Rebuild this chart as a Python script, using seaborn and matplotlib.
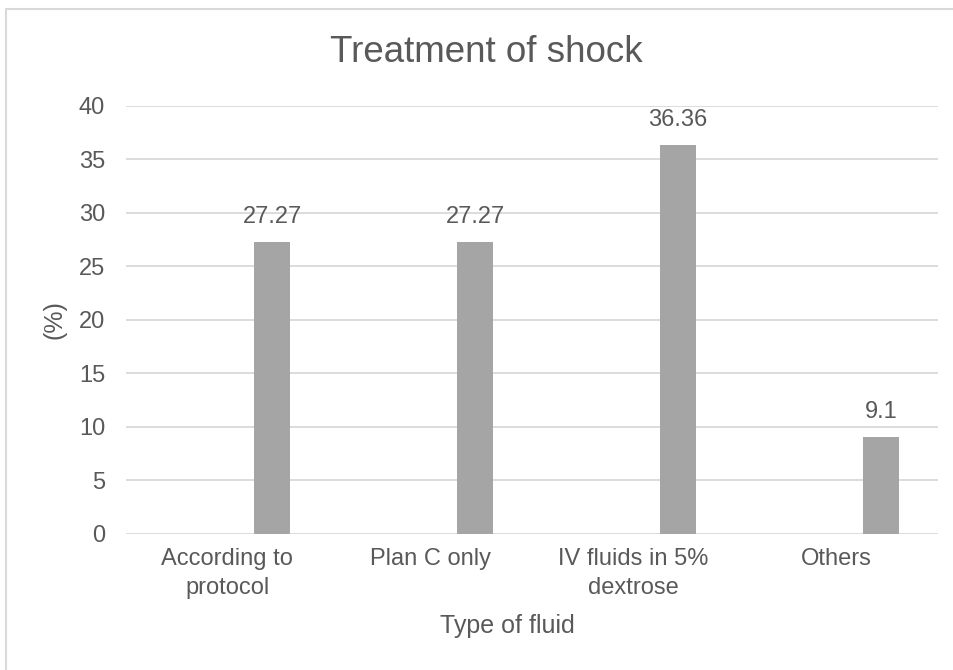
import matplotlib
matplotlib.use("Agg")
import matplotlib.pyplot as plt
from matplotlib.lines import Line2D
import seaborn as sns
import pandas as pd

# data
categories = ["According to\nprotocol", "Plan C only", "IV fluids in 5%\ndextrose", "Others"]
percent = [27.27, 27.27, 36.36, 9.1]
value_labels = ["27.27", "27.27", "36.36", "9.1"]

title = "Treatment of shock"
x_title = "Type of fluid"
y_title = "(%)"

text_col = "#595959"
bar_col = "#A5A5A5"
grid_col = "#D9D9D9"

df = pd.DataFrame({"fluid": categories, "pct": percent, "series": "shock"})

sns.set_style("white")
plt.rcParams["font.family"] = ["Liberation Sans", "DejaVu Sans"]

fig = plt.figure(figsize=(9.54, 6.70), dpi=100)
ax = fig.add_axes([0.132, 0.203, 0.851, 0.639])

# Excel-style cluster with an empty first series -> bars sit right of the category centre
ax = sns.barplot(data=df, x="fluid", y="pct", hue="series",
                 hue_order=["blank", "shock"],
                 palette={"blank": "white", "shock": bar_col},
                 width=0.88, gap=0.6, dodge=True, legend=False,
                 linewidth=0, ax=ax)

ax.set_ylim(0, 40)
ax.set_xlim(-0.5, 3.5)
ax.set_yticks(range(0, 41, 5))
ax.yaxis.grid(True, color=grid_col, linewidth=1.3)
ax.set_axisbelow(True)
for s in ax.spines.values():
    s.set_visible(False)
ax.tick_params(axis="both", length=0, labelsize=17, labelcolor=text_col)
ax.tick_params(axis="y", pad=15)
ax.tick_params(axis="x", pad=10)
for lbl in ax.get_xticklabels():
    lbl.set_linespacing(1.4)

ax.bar_label(ax.containers[-1], labels=value_labels, padding=10, fontsize=17, color=text_col)

ax.set_xlabel(x_title, fontsize=18, color=text_col)
ax.xaxis.set_label_coords(0.47, -0.215)
ax.xaxis.label.set_va("center")
ax.set_ylabel(y_title, fontsize=18, color=text_col)
ax.yaxis.set_label_coords(-0.0875, 0.5)
ax.yaxis.label.set_va("center")

fig.text(0.51, 1 - 53 / 670, title, ha="center", va="center", fontsize=26.5, color=text_col)

# chart area border (only top and left visible in the crop)
fig.add_artist(Line2D([6.5 / 954, 6.5 / 954], [0, 1 - 9 / 670], transform=fig.transFigure,
                      color=grid_col, linewidth=1.5))
fig.add_artist(Line2D([6.5 / 954, 1], [1 - 9 / 670, 1 - 9 / 670], transform=fig.transFigure,
                      color=grid_col, linewidth=1.5))

fig.savefig("out.png", dpi=100)
